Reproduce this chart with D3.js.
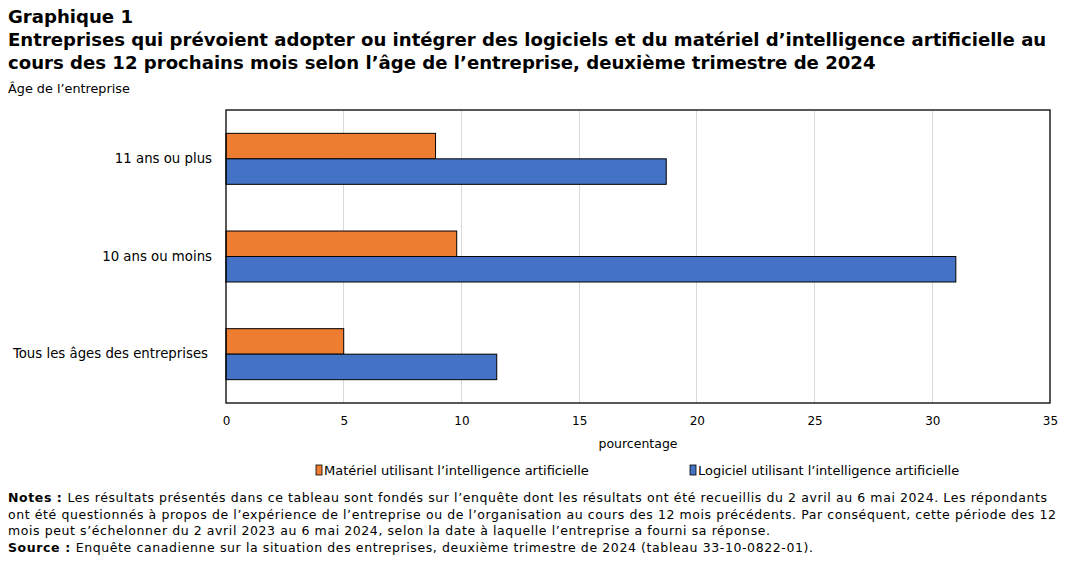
<!DOCTYPE html>
<html><head><meta charset="utf-8">
<script src="https://cdn.jsdelivr.net/npm/d3@7"></script>
<style>
body{margin:0;background:#fff;}
svg{display:block;font-family:"DejaVu Sans",Verdana,sans-serif;}
</style></head>
<body><svg id="c" width="1070" height="563"></svg>
<script>
const categories = ["11 ans ou plus", "10 ans ou moins", "Tous les âges des entreprises"];
const seriesNames = ["Matériel utilisant l’intelligence  artificielle", "Logiciel utilisant l’intelligence  artificielle"];
const materiel = [8.9, 9.8, 5.0];
const logiciel = [18.7, 31.0, 11.5];
const xTicks = [0, 5, 10, 15, 20, 25, 30, 35];
const colors = ["#ed7d31", "#4472c4"];
const titleLines = ["Graphique 1",
  "Entreprises qui prévoient adopter ou intégrer des logiciels et du matériel d’intelligence artificielle au",
  "cours des 12 prochains mois selon l’âge de l’entreprise, deuxième trimestre de 2024"];
const notes = [
  {b:"Notes : ", t:"Les résultats présentés dans ce tableau sont fondés sur l’enquête dont les résultats ont été recueillis du 2 avril au 6 mai 2024. Les répondants", w:1039},
  {b:"", t:"ont été questionnés à propos de l’expérience de l’entreprise ou de l’organisation au cours des 12 mois précédents. Par conséquent, cette période des 12", w:1048},
  {b:"", t:"mois peut s’échelonner du 2 avril 2023 au 6 mai 2024, selon la date à laquelle l’entreprise a fourni sa réponse.", w:762},
  {b:"Source : ", t:"Enquête canadienne sur la situation des entreprises, deuxième trimestre de 2024 (tableau 33-10-0822-01).", w:805}
];

const svg = d3.select("#c");
const M = {left:226, right:1050, top:110, bottom:403};

svg.append("g").selectAll("text").data(titleLines).join("text")
  .attr("x", 8).attr("y", (d,i)=>23 + i*23)
  .attr("font-size", 18.1).attr("font-weight", "bold").attr("fill", "#000")
  .text(d=>d);

svg.append("text").attr("x", 8).attr("y", 93).attr("font-size", 12.8).text("Âge de l’entreprise");

const x = d3.scaleLinear().domain([0, 35]).range([M.left, M.right]);
const y = d3.scaleBand().domain(categories).range([M.top, M.bottom]).paddingInner(0.478).paddingOuter(0.239);
const ys = d3.scaleBand().domain([0,1]).range([0, y.bandwidth()]);

// grid
svg.append("g").selectAll("line").data(xTicks.slice(1, -1)).join("line")
  .attr("x1", d=>x(d)).attr("x2", d=>x(d)).attr("y1", M.top).attr("y2", M.bottom)
  .attr("stroke", "#d9d9d9").attr("stroke-width", 1).attr("shape-rendering", "crispEdges");

// bars
const data = categories.map((c,i)=>({c, v:[materiel[i], logiciel[i]]}));
const g = svg.append("g").selectAll("g").data(data).join("g").attr("transform", d=>`translate(0,${y(d.c)})`);
g.selectAll("rect").data(d=>d.v.map((v,k)=>({v,k}))).join("rect")
  .attr("x", x(0)).attr("y", d=>ys(d.k)).attr("width", d=>x(d.v)-x(0)).attr("height", ys.bandwidth())
  .attr("fill", d=>colors[d.k]).attr("stroke", "#000").attr("stroke-width", 1);

// frame
svg.append("rect").attr("x", M.left).attr("y", M.top).attr("width", M.right-M.left).attr("height", M.bottom-M.top)
  .attr("fill", "none").attr("stroke", "#000").attr("stroke-width", 1.3);

// x axis
const xa = svg.append("g").attr("transform", `translate(0,${M.bottom})`)
  .call(d3.axisBottom(x).tickValues(xTicks).tickSize(0).tickPadding(13).tickFormat(d3.format("d")));
xa.select(".domain").remove();
xa.selectAll("text").attr("font-size", 12).attr("font-family", "DejaVu Sans").attr("fill", "#000");

// y axis
const ya = svg.append("g").attr("transform", `translate(${M.left},0)`)
  .call(d3.axisLeft(y).tickSize(0).tickPadding(14));
ya.select(".domain").remove();
ya.selectAll("text").attr("font-size", 13.3).attr("font-family", "DejaVu Sans").attr("fill", "#000")
  .attr("dx", (d,i)=> i===2 ? -4 : 0);

svg.append("text").attr("x", (M.left+M.right)/2).attr("y", 448).attr("text-anchor", "middle").attr("font-size", 12.5).text("pourcentage");

// legend
const lx = [316, 690];
const lg = svg.append("g").selectAll("g").data(seriesNames).join("g").attr("transform", (d,i)=>`translate(${lx[i]},465)`);
lg.append("rect").attr("x", 0).attr("y", 0).attr("width", 6).attr("height", 10).attr("fill", (d,i)=>colors[i]).attr("stroke", "#000").attr("stroke-width", 0.8);
lg.append("text").attr("x", 8).attr("y", 10).attr("font-size", 13).text(d=>d);

// notes
const nt = svg.append("g").selectAll("text").data(notes).join("text")
  .attr("x", 8).attr("y", (d,i)=>502 + i*16.7).attr("font-size", 12.5).attr("fill", "#000")
  .attr("xml:space", "preserve");
nt.each(function(d){
  const t = d3.select(this);
  if (d.w) t.attr("textLength", d.w).attr("lengthAdjust", "spacing");
  if (d.b) t.append("tspan").attr("font-weight", "bold").text(d.b);
  t.append("tspan").text(d.t);
});
</script></body></html>
